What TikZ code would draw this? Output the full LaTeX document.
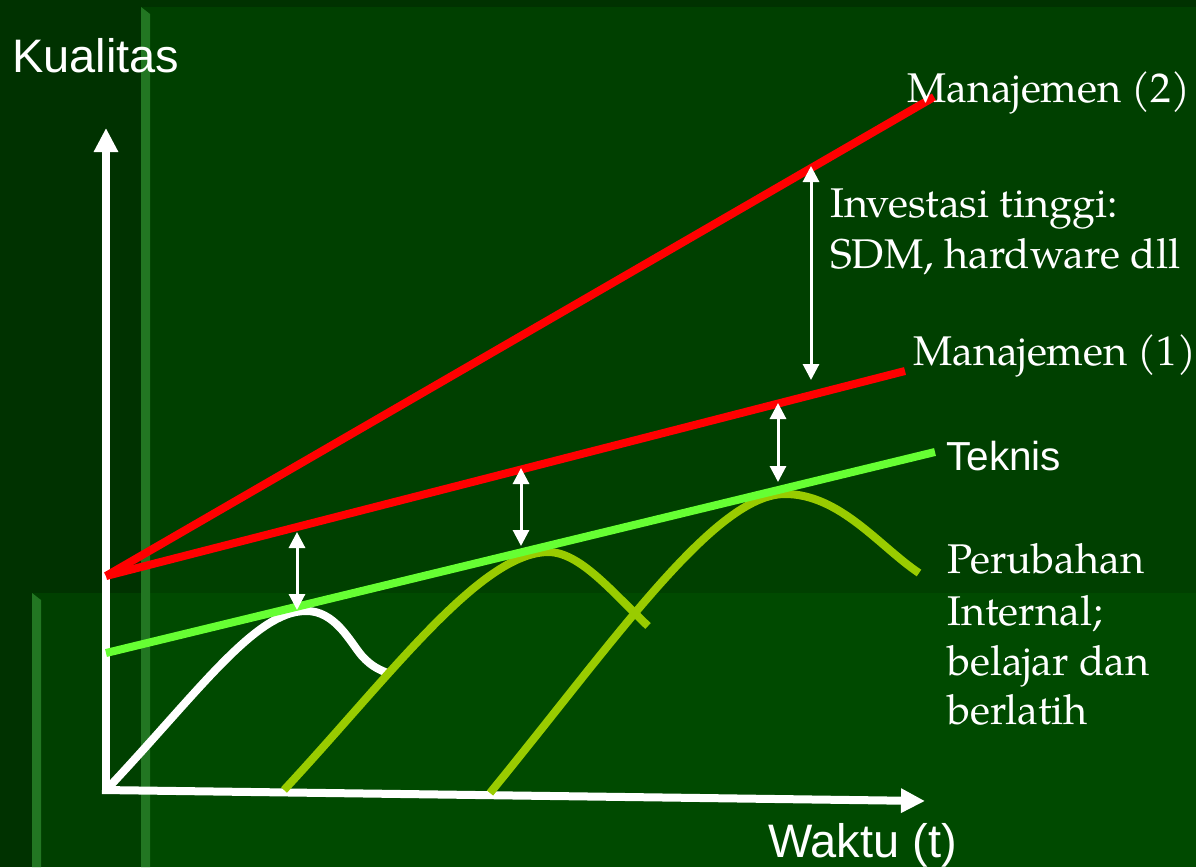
\documentclass[tikz,border=0pt]{standalone}
\usepackage{fontspec}
\setsansfont{Liberation Sans}
\newfontfamily\palafont{texgyrepagella-regular.otf}
\usetikzlibrary{arrows.meta}
\definecolor{bgbase}{RGB}{0,50,0}
\definecolor{bgmain}{RGB}{0,64,0}
\definecolor{bglow}{RGB}{0,74,0}
\definecolor{bevel}{RGB}{34,118,34}
\definecolor{redline}{RGB}{255,0,0}
\definecolor{teklime}{RGB}{102,255,51}
\definecolor{curveolive}{RGB}{153,204,0}
\tikzset{
  axisline/.style={white,line width=8pt,-{Triangle[width=23pt,length=24pt]}},
  chartline/.style={line width=8pt},
  gaparrow/.style={white,line width=3pt,{Triangle[width=16pt,length=16pt]}-{Triangle[width=16pt,length=16pt]}},
  sanslabel/.style={text=white,inner sep=0pt,anchor=base west,font=\sffamily\fontsize{47}{56}\selectfont},
  seriflabel/.style={text=white,inner sep=0pt,anchor=base west,font=\palafont\fontsize{41.5}{50}\selectfont}
}
\begin{document}
\begin{tikzpicture}[x=1pt,y=-1pt]
\useasboundingbox (0,0) rectangle (1196,867);
% background
\fill[bgbase] (0,0) rectangle (1196,867);
\fill[bgmain] (141,7) rectangle (1196,867);
\fill[bgmain] (32,593) rectangle (1196,867);
\fill[bglow] (150,593) rectangle (1196,867);
\fill[bevel] (141,7) -- (150,14) -- (150,867) -- (141,867) -- cycle;
\fill[bevel] (32,593) -- (41,600) -- (41,867) -- (32,867) -- cycle;
% coordinates
\coordinate (origin) at (106,790);
\coordinate (ytip) at (106,128);
\coordinate (xstart) at (102,790);
\coordinate (xtip) at (925,801);
\coordinate (mstart) at (106,576);
\coordinate (m2end) at (934,97);
\coordinate (m1end) at (905,371);
\coordinate (tstart) at (106,653);
\coordinate (tend) at (935,452);
% axes
\draw[axisline] (origin) -- (ytip);
\draw[axisline] (xstart) -- (xtip);
% learning curves
\draw[chartline,white] (109,787) .. controls (200,690) and (255,612) .. (305,611)
  .. controls (335,610) and (350,642) .. (362,656) .. controls (372,667) and (380,670) .. (390,674);
\draw[chartline,curveolive] (284,790) .. controls (390,676) and (480,553) .. (548,552)
  .. controls (580,552) and (612,592) .. (648,626);
\draw[chartline,curveolive] (490,793) .. controls (615,640) and (715,494) .. (785,494)
  .. controls (840,494) and (880,547) .. (919,573);
% technical and management lines
\draw[chartline,teklime] (tstart) -- (tend);
\draw[chartline,redline] (mstart) -- (m1end);
\draw[chartline,redline] (mstart) -- (m2end);
% gap arrows
\coordinate (g1t) at (297,532); \coordinate (g1b) at (297,610);
\coordinate (g2t) at (521,468); \coordinate (g2b) at (521,546);
\coordinate (g3t) at (778,403); \coordinate (g3b) at (778,482);
\coordinate (g4t) at (811,166); \coordinate (g4b) at (811,380);
\draw[gaparrow] (g1t) -- (g1b);
\draw[gaparrow] (g2t) -- (g2b);
\draw[gaparrow] (g3t) -- (g3b);
\draw[gaparrow] (g4t) -- (g4b);
% labels
\node[sanslabel] (kual) at (12,72) {Kualitas};
\node[sanslabel] (waktu) at (768,857) {Waktu (t)};
\node[sanslabel,font=\sffamily\fontsize{40.5}{48}\selectfont] (teknis) at (946,470) {Teknis};
\node[seriflabel] (man2) at (907,102) {Manajemen (2)};
\node[seriflabel] (inv1) at (830,217) {Investasi tinggi:};
\node[seriflabel] (inv2) at (830,268) {SDM, hardware dll};
\node[seriflabel] (man1) at (913,365) {Manajemen (1)};
\node[seriflabel] (pi1) at (947,573) {Perubahan};
\node[seriflabel] (pi2) at (947,625) {Internal;};
\node[seriflabel] (pi3) at (947,675) {belajar dan};
\node[seriflabel] (pi4) at (947,724) {berlatih};
\end{tikzpicture}
\end{document}
